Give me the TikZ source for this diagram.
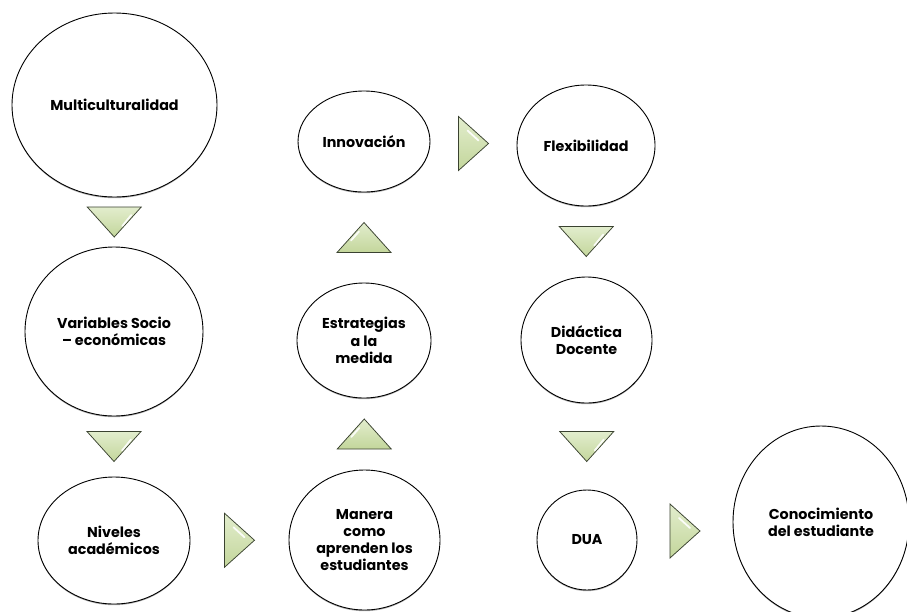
\documentclass[tikz,border=0pt]{standalone}
\usepackage{fontspec}
\setmainfont{Poppins}
\usetikzlibrary{shapes.geometric,shadows,calc}
\definecolor{triLight}{HTML}{E2EDCD}
\definecolor{triDark}{HTML}{C3D69B}
\definecolor{triEdge}{HTML}{3A4230}
\tikzset{
  bubble/.style={ellipse, draw=black, line width=0.9pt, fill=white, inner sep=0pt,
    align=center, font=\fontsize{14.3}{17.3}\selectfont\bfseries,
    drop shadow={shadow xshift=0pt, shadow yshift=-1.2pt, opacity=0.3, fill=black}},
  tri/.style={draw=triEdge, line width=0.75pt, top color=triLight, bottom color=triDark, line join=miter},
  gloss/.style={white, line width=1.8pt, opacity=0.9, line cap=round},
  pics/tridown/.style={code={
    \path[tri] (-27,-15) -- (27,-15) -- (0,15) -- cycle;
    \draw[gloss] (17,-7) -- (8,4);}},
  pics/triup/.style={code={
    \path[tri] (-27,15) -- (27,15) -- (0,-15) -- cycle;
    \draw[gloss] (-5,-6) -- (-13,3);}},
  pics/triright/.style={code={
    \path[tri] (-15,-27) -- (-15,27) -- (15,0) -- cycle;
    \draw[gloss] (-6,-13) -- (5,-3);}}
}
\begin{document}
\begin{tikzpicture}[x=1pt, y=-1pt]
\useasboundingbox[fill=white] (0,0) rectangle (907,611);
% nodes
\node[bubble, minimum width=205, minimum height=184] (mul) at (114.5,105) {Multiculturalidad};
\node[bubble, minimum width=178, minimum height=169] (var) at (114,331.5) {Variables Socio\\– económicas};
\node[bubble, minimum width=152, minimum height=127] (niv) at (114,540.5) {Niveles\\académicos};
\node[bubble, minimum width=151, minimum height=140] (man) at (364.5,540) {Manera\\como\\aprenden los\\estudiantes};
\node[bubble, minimum width=134, minimum height=115] (est) at (364,340.5) {Estrategias\\a la\\medida};
\node[bubble, minimum width=132, minimum height=101] (inn) at (364,141.5) {Innovación};
\node[bubble, minimum width=138, minimum height=121] (fle) at (586,145.5) {Flexibilidad};
\node[bubble, minimum width=131, minimum height=126] (did) at (586.5,340) {Didáctica\\Docente};
\node[bubble, minimum width=100, minimum height=100] (dua) at (587,540) {DUA};
\node[bubble, minimum width=176, minimum height=192] (con) at (821,522) {Conocimiento\\del estudiante};
% connectors (triangles between nodes)
\pic at ($(mul.south)!0.5!(var.north)$) {tridown};
\pic at ($(var.south)!0.5!(niv.north)$) {tridown};
\pic at ($(niv.east)!0.5!(man.west)$) {triright};
\pic at ($(man.north)!0.5!(est.south)$) {triup};
\pic at ($(est.north)!0.5!(inn.south)$) {triup};
\pic at ($(inn.east)!0.5!(fle.west)$) {triright};
\pic at ($(fle.south)!0.5!(did.north)$) {tridown};
\pic at ($(did.south)!0.5!(dua.north)$) {tridown};
\pic at ($(dua.east)!0.5!(con.west)$) {triright};
\end{tikzpicture}
\end{document}
